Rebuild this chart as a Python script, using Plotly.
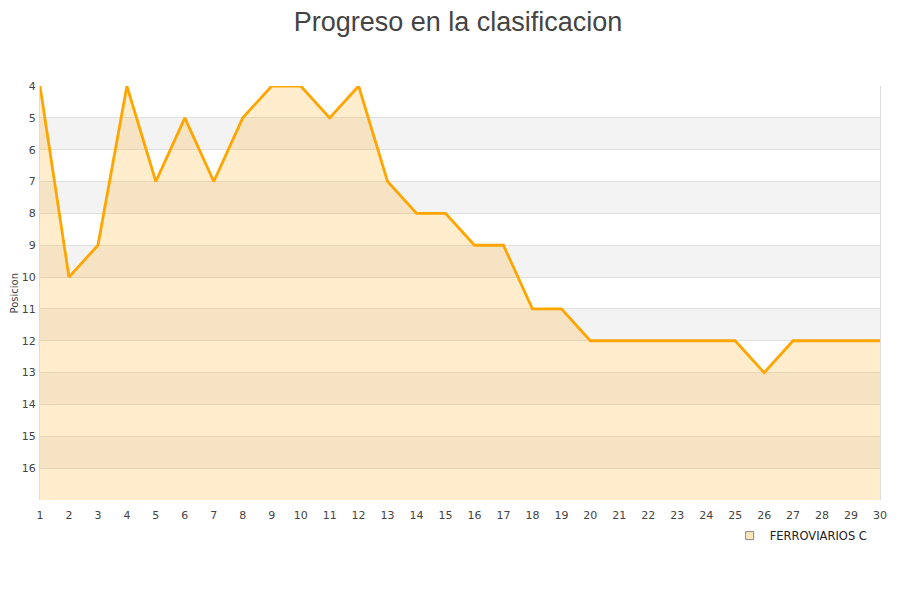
import plotly.graph_objects as go

jornadas = list(range(1, 31))
posiciones = [4, 10, 9, 4, 7, 5, 7, 5, 4, 4, 5, 4, 7, 8, 8, 9, 9, 11, 11, 12,
              12, 12, 12, 12, 12, 13, 12, 12, 12, 12]
equipo = "FERROVIARIOS C"
y_ticks = list(range(4, 17))
y_min, y_max = 4, 17

fig = go.Figure()

# baseline for the fill (bottom of axis)
fig.add_trace(go.Scatter(x=jornadas, y=[y_max] * len(jornadas), mode="lines",
                         line=dict(width=0), hoverinfo="skip", showlegend=False))
fig.add_trace(go.Scatter(x=jornadas, y=posiciones, mode="lines", fill="tonexty",
                         fillcolor="rgba(255,170,20,0.21)",
                         line=dict(color="#ffa500", width=2.8), name=equipo,
                         showlegend=False))
fig.add_trace(go.Scatter(x=[None], y=[None], mode="markers", name=equipo,
                         marker=dict(symbol="square", size=8, color="#fde6bd",
                                     line=dict(color="#888", width=1))))

shapes = []
for lo in range(5, 17, 2):
    shapes.append(dict(type="rect", xref="paper", yref="y", x0=0, x1=1,
                       y0=lo, y1=lo + 1, fillcolor="#f3f3f3", line=dict(width=0),
                       layer="below"))

fig.update_layout(
    width=900, height=600,
    paper_bgcolor="white", plot_bgcolor="white",
    margin=dict(l=32, r=28, t=78, b=108, autoexpand=False),
    title=dict(text="Progreso en la clasificacion", x=0.5, xanchor="center",
               y=0.977, yanchor="middle",
               font=dict(family="Liberation Sans, Arial", size=27, color="#444")),
    font=dict(family="DejaVu Sans", size=11, color="#444"),
    shapes=shapes,
    annotations=[dict(text="Posicion", xref="paper", yref="paper",
                      x=-0.0304, y=0.5, xanchor="center", yanchor="middle",
                      textangle=-90, showarrow=False, borderpad=0,
                      font=dict(size=10, color="#444"))],
    showlegend=True,
    legend=dict(x=0.821, y=-0.051, xanchor="left", yanchor="top",
                orientation="h", font=dict(size=11.5, color="#222"),
                bgcolor="rgba(0,0,0,0)"),
)
fig.update_xaxes(range=[1, 30], tickmode="array", tickvals=jornadas,
                 automargin=False,
                 showgrid=False, zeroline=False, showline=False,
                 ticks="outside", ticklen=5, tickcolor="rgba(0,0,0,0)",
                 tickfont=dict(size=11, color="#444"))
fig.update_yaxes(range=[y_max, y_min], tickmode="array", tickvals=y_ticks,
                 automargin=False,
                 showgrid=True, gridcolor="#e0e0e0", gridwidth=1, zeroline=False,
                 showline=True, linecolor="#dcdcdc", mirror=True,
                 ticks="outside", ticklen=1, tickcolor="rgba(0,0,0,0)",
                 tickfont=dict(size=11, color="#444"))

fig.write_html("out.html")
